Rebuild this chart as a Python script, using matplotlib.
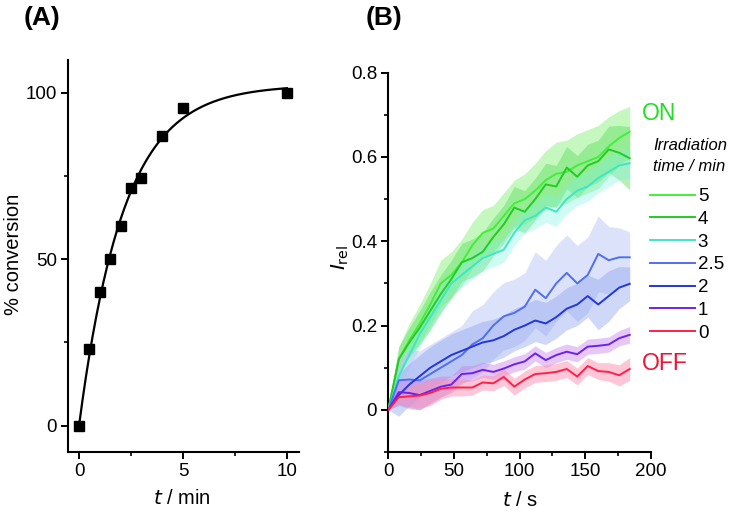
import numpy as np
import matplotlib
matplotlib.use("Agg")
import matplotlib.pyplot as plt
from matplotlib.ticker import MultipleLocator

plt.rcParams['font.family'] = ['Liberation Sans', 'DejaVu Sans']

# ---------------- Panel A data ----------------
time_min = [0, 0.5, 1, 1.5, 2, 2.5, 3, 4, 5, 10]
conversion = [0, 23, 40, 50, 60, 71.5, 74.5, 87, 95.5, 100]

# ---------------- Panel B data ----------------
t_s = [0, 8, 16, 24, 32, 40, 48, 56, 64, 72, 80, 88, 96, 104, 112, 120,
       128, 136, 144, 152, 160, 168, 176, 184]
irr_labels = ['5', '4', '3', '2.5', '2', '1', '0']
i5 = [0, 0.12, 0.165, 0.205, 0.25, 0.3, 0.32, 0.35, 0.39, 0.42, 0.43, 0.46,
      0.49, 0.5, 0.52, 0.545, 0.56, 0.565, 0.58, 0.59, 0.6, 0.625, 0.645, 0.66]
i4 = [0, 0.12, 0.16, 0.195, 0.235, 0.275, 0.31, 0.35, 0.36, 0.375, 0.41, 0.44,
      0.48, 0.47, 0.5, 0.535, 0.53, 0.575, 0.553, 0.58, 0.59, 0.618, 0.61, 0.597]
i3 = [0, 0.08, 0.13, 0.18, 0.22, 0.26, 0.3, 0.32, 0.34, 0.36, 0.37, 0.38,
      0.42, 0.45, 0.46, 0.48, 0.47, 0.5, 0.52, 0.53, 0.55, 0.565, 0.58, 0.585]
i25 = [0, 0.07, 0.072, 0.07, 0.085, 0.1, 0.115, 0.13, 0.155, 0.17, 0.2, 0.222,
       0.23, 0.245, 0.285, 0.265, 0.3, 0.325, 0.3, 0.32, 0.37, 0.355, 0.362, 0.362]
i2 = [0, 0.035, 0.06, 0.08, 0.1, 0.115, 0.13, 0.14, 0.15, 0.16, 0.165, 0.175,
      0.19, 0.2, 0.212, 0.205, 0.22, 0.24, 0.25, 0.27, 0.25, 0.27, 0.29, 0.299]
i1 = [0, 0.042, 0.04, 0.035, 0.045, 0.055, 0.06, 0.085, 0.087, 0.095, 0.09, 0.098,
      0.108, 0.115, 0.134, 0.118, 0.13, 0.138, 0.132, 0.15, 0.152, 0.155, 0.17, 0.178]
i0 = [0, 0.03, 0.032, 0.034, 0.04, 0.05, 0.053, 0.053, 0.053, 0.065, 0.063, 0.078,
      0.055, 0.072, 0.085, 0.087, 0.09, 0.097, 0.079, 0.104, 0.092, 0.09, 0.082, 0.097]

s5 = [0, 0.03, 0.04, 0.045, 0.05, 0.055, 0.055, 0.055, 0.055, 0.055, 0.055, 0.055,
      0.055, 0.06, 0.065, 0.07, 0.075, 0.075, 0.075, 0.075, 0.075, 0.07, 0.065, 0.06]
s4 = [0, 0.03, 0.035, 0.04, 0.045, 0.045, 0.045, 0.045, 0.045, 0.045, 0.045, 0.045,
      0.05, 0.05, 0.05, 0.05, 0.05, 0.05, 0.05, 0.05, 0.05, 0.055, 0.065, 0.075]
s3 = [0, 0.02, 0.03, 0.03, 0.03, 0.03, 0.03, 0.03, 0.03, 0.03, 0.03, 0.03,
      0.03, 0.03, 0.03, 0.035, 0.035, 0.035, 0.035, 0.035, 0.035, 0.035, 0.035, 0.035]
s25 = [0, 0.06, 0.07, 0.07, 0.07, 0.07, 0.07, 0.07, 0.08, 0.08, 0.08, 0.08,
       0.08, 0.08, 0.09, 0.09, 0.09, 0.09, 0.09, 0.09, 0.09, 0.08, 0.07, 0.06]
s2 = [0, 0.05, 0.05, 0.05, 0.05, 0.05, 0.05, 0.05, 0.05, 0.05, 0.05, 0.05,
      0.05, 0.05, 0.05, 0.05, 0.05, 0.05, 0.05, 0.05, 0.06, 0.06, 0.05, 0.04]
s1 = [0, 0.03, 0.035, 0.035, 0.03, 0.025, 0.02, 0.02, 0.018, 0.018, 0.018, 0.018,
      0.018, 0.018, 0.018, 0.018, 0.018, 0.018, 0.018, 0.018, 0.018, 0.018, 0.018, 0.02]
s0 = [0, 0.015, 0.025, 0.03, 0.03, 0.025, 0.02, 0.02, 0.018, 0.018, 0.018, 0.02,
      0.02, 0.02, 0.02, 0.02, 0.02, 0.02, 0.02, 0.02, 0.02, 0.022, 0.025, 0.027]

means = [i5, i4, i3, i25, i2, i1, i0]
stds = [s5, s4, s3, s25, s2, s1, s0]
line_colors = ['#44ee3a', '#22cc22', '#3fe6c4', '#4f6ef0', '#2236dc', '#6a22ee', '#ff1f48']
band_colors = ['#7cf070', '#55dd55', '#7af2e2', '#b9c6f6', '#8ea2ee', '#c87ae8', '#ff8fb0']
band_alpha = [0.45, 0.42, 0.35, 0.5, 0.42, 0.42, 0.5]

# ---------------- Figure ----------------
fig = plt.figure(figsize=(7.32, 5.13), dpi=100)
W, H = 732, 513

def ax_rect(l, t, r, b):
    return [l / W, 1 - b / H, (r - l) / W, (b - t) / H]

TICK_FS = 13.5
LABEL_FS = 14.5

def style_axes(ax):
    for s in ['top', 'right']:
        ax.spines[s].set_visible(False)
    for s in ['left', 'bottom']:
        ax.spines[s].set_linewidth(1.5)
    ax.tick_params(which='major', direction='out', length=5, width=1.4,
                   labelsize=TICK_FS, pad=3)
    ax.tick_params(which='minor', direction='out', length=3, width=1.2)

# Panel A
axA = fig.add_axes(ax_rect(68, 60, 299, 452))
tA = np.array(time_min, dtype=float)
cA = np.array(conversion, dtype=float)
# exponential fit a*(1-exp(-k t)) by least squares on a grid of k
best = None
for k in np.linspace(0.2, 1.0, 801):
    basis = 1 - np.exp(-k * tA)
    a = np.dot(basis, cA) / np.dot(basis, basis)
    err = np.sum((a * basis - cA) ** 2)
    if best is None or err < best[0]:
        best = (err, a, k)
_, a_fit, k_fit = best
tf = np.linspace(0, 10, 300)
axA.plot(tf, a_fit * (1 - np.exp(-k_fit * tf)), color='black', lw=1.6, zorder=2)
axA.plot(tA, cA, 's', color='black', ms=6.5, zorder=3, clip_on=False)
axA.set_xlim(-0.53, 10.58)
axA.set_ylim(-7.9, 109.8)
axA.xaxis.set_major_locator(MultipleLocator(5))
axA.xaxis.set_minor_locator(MultipleLocator(2.5))
axA.yaxis.set_major_locator(MultipleLocator(50))
axA.yaxis.set_minor_locator(MultipleLocator(25))
style_axes(axA)
axA.set_xlabel(r'$\it{t}$ / min', fontsize=LABEL_FS, va='center')
axA.xaxis.set_label_coords(182 / W, 1 - 498 / H, transform=fig.transFigure)
axA.set_ylabel('% conversion', fontsize=LABEL_FS, va='center')
axA.yaxis.set_label_coords(14 / W, 1 - 254 / H, transform=fig.transFigure)

# Panel B
axB = fig.add_axes(ax_rect(388.3, 72.7, 650.7, 452))
tB = np.array(t_s, dtype=float)
for m, s, bc, ba in zip(means, stds, band_colors, band_alpha):
    m = np.array(m); s = np.array(s)
    axB.fill_between(tB, m - s, m + s, color=bc, alpha=ba, lw=0, zorder=1)
handles = []
for m, lc, lab in zip(means, line_colors, irr_labels):
    h, = axB.plot(tB, m, color=lc, lw=1.4, zorder=3, label=lab)
    handles.append(h)
axB.set_xlim(0, 200)
axB.set_ylim(-0.1, 0.8)
axB.xaxis.set_major_locator(MultipleLocator(50))
axB.xaxis.set_minor_locator(MultipleLocator(25))
axB.yaxis.set_major_locator(MultipleLocator(0.2))
axB.yaxis.set_minor_locator(MultipleLocator(0.1))
axB.set_yticks([0, 0.2, 0.4, 0.6, 0.8])
axB.set_yticklabels(['0', '0.2', '0.4', '0.6', '0.8'])
style_axes(axB)
axB.set_xlabel(r'$\it{t}$ / s', fontsize=LABEL_FS, va='center')
axB.xaxis.set_label_coords(520 / W, 1 - 500 / H, transform=fig.transFigure)
axB.set_ylabel(r'$\it{I}_{\rm rel}$', fontsize=LABEL_FS, va='center')
axB.yaxis.set_label_coords(340 / W, 1 - 257 / H, transform=fig.transFigure)

# Panel letters
fig.text(42 / W, 1 - 18 / H, '(A)', fontsize=19, fontweight='bold', ha='center', va='center')
fig.text(384 / W, 1 - 18 / H, '(B)', fontsize=19, fontweight='bold', ha='center', va='center')

# ON / OFF
fig.text(642 / W, 1 - 113 / H, 'ON', fontsize=16.5, color='#22dd22', ha='left', va='center')
fig.text(642 / W, 1 - 363 / H, 'OFF', fontsize=16.5, color='#ee1133', ha='left', va='center')

# Legend title
fig.text(653 / W, 1 - 146 / H, 'Irradiation', fontsize=12, style='italic', ha='left', va='center')
fig.text(653 / W, 1 - 167 / H, 'time / min', fontsize=12, style='italic', ha='left', va='center')

fig.legend(handles=handles, labels=irr_labels, loc='upper left',
           bbox_to_anchor=(650 / W, 1 - 188 / H), frameon=False,
           fontsize=13.5, handlelength=2.4, handletextpad=0.15,
           labelspacing=0.3, borderpad=0, borderaxespad=0)

fig.savefig('out.png', dpi=100)
